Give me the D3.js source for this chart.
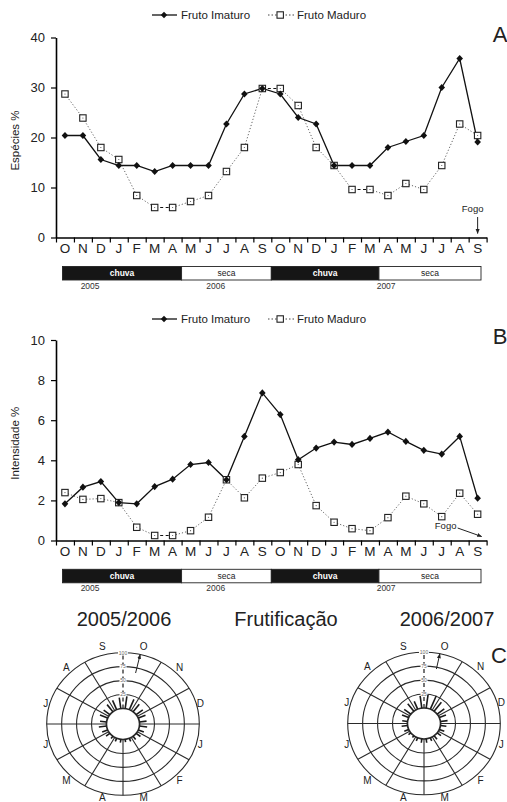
<!DOCTYPE html>
<html>
<head>
<meta charset="utf-8">
<script src="https://cdn.jsdelivr.net/npm/d3@7"></script>
<style>
  body { margin: 0; background: #fff; }
  svg { display: block; font-family: "Liberation Sans", Arial, sans-serif; }
</style>
</head>
<body>
<svg id="chart" width="507" height="802"></svg>
<script>
// months from Oct 2005 to Sep 2007
const months = ["O","N","D","J","F","M","A","M","J","J","A","S","O","N","D","J","F","M","A","M","J","J","A","S"];

// A - Espécies %
const especiesImaturo = [20.4, 20.4, 15.6, 14.4, 14.4, 13.2, 14.4, 14.4, 14.4, 22.7, 28.7, 29.8,
                         28.7, 24.0, 22.7, 14.4, 14.4, 14.4, 18.0, 19.2, 20.4, 30.0, 35.8, 19.1];
const especiesMaduro  = [28.7, 23.9, 18.0, 15.6, 8.4, 6.0, 6.0, 7.2, 8.4, 13.2, 18.0, 29.8,
                         29.8, 26.4, 18.0, 14.4, 9.6, 9.6, 8.4, 10.8, 9.6, 14.4, 22.7, 20.4];
const especiesTicks = [0, 10, 20, 30, 40];

// B - Intensidade %
const intensImaturo = [1.83, 2.66, 2.94, 1.89, 1.83, 2.69, 3.06, 3.79, 3.89, 3.03, 5.19, 7.36,
                       6.28, 4.03, 4.61, 4.91, 4.79, 5.09, 5.41, 4.94, 4.50, 4.31, 5.19, 2.11];
const intensMaduro  = [2.39, 2.05, 2.09, 1.89, 0.66, 0.25, 0.25, 0.49, 1.16, 3.03, 2.13, 3.11,
                       3.39, 3.79, 1.74, 0.91, 0.59, 0.49, 1.14, 2.21, 1.83, 1.19, 2.36, 1.31];
const intensTicks = [0, 2, 4, 6, 8, 10];

// season bar, in month indices
const seasons = [
  { label: "chuva", from: 0, to: 7 },
  { label: "seca", from: 7, to: 12 },
  { label: "chuva", from: 12, to: 18 },
  { label: "seca", from: 18, to: 24 }
];
const yearLabels = [{ label: "2005", at: 1.9 }, { label: "2006", at: 8.9 }, { label: "2007", at: 18.4 }];

// C - circular histograms (24 classes of 15 degrees, October at the top)
const roseMonths = ["O","N","D","J","F","M","A","M","J","J","A","S"];
const roseRings = [25, 50, 75, 100];
const frut0506 = [22, 20, 17, 14, 13, 12, 13, 10, 9, 7, 6, 5,
                  6, 6, 5, 8, 10, 13, 11, 14, 13, 16, 18, 20];
const frut0607 = [24, 26, 20, 15, 12, 12, 10, 9, 8, 8, 6, 7,
                  7, 6, 4, 5, 8, 10, 9, 12, 14, 17, 15, 22];
const roseTitles = ["2005/2006", "Frutificação", "2006/2007"];
const meanAngles = [13, 12];
const meanStarts = [66, 72];

const svg = d3.select("#chart");

svg.append("defs").append("marker")
  .attr("id", "arrow")
  .attr("viewBox", "0 0 10 10")
  .attr("refX", 9).attr("refY", 5)
  .attr("markerWidth", 5).attr("markerHeight", 5)
  .attr("orient", "auto")
  .append("path")
  .attr("d", "M0,1L10,5L0,9Z")
  .attr("fill", "#222");

const x = d3.scaleBand().domain(d3.range(months.length)).range([56, 486.6]);
const edge = d3.scaleLinear([0, months.length], [56, 486.6]);

function drawLegend(yPos) {
  const g = svg.append("g").attr("transform", `translate(0,${yPos})`);
  g.append("line").attr("x1", 152).attr("x2", 177).attr("stroke", "#111").attr("stroke-width", 1.3);
  g.append("path").attr("d", "M164,-3.3L167.2,0L164,3.3L160.8,0Z").attr("fill", "#111");
  g.append("text").attr("x", 181).attr("y", 4).attr("font-size", 11.5).attr("fill", "#222").text("Fruto Imaturo");
  g.append("line").attr("x1", 268).attr("x2", 294).attr("stroke", "#444")
    .attr("stroke-width", 1).attr("stroke-dasharray", "1.5,2");
  g.append("rect").attr("x", 277).attr("y", -3.2).attr("width", 6.4).attr("height", 6.4)
    .attr("fill", "#fff").attr("stroke", "#222").attr("stroke-width", 1.1);
  g.append("text").attr("x", 297).attr("y", 4).attr("font-size", 11.5).attr("fill", "#222").text("Fruto Maduro");
}

function drawPanel(cfg) {
  const y = d3.scaleLinear([0, cfg.max], [cfg.bottom, cfg.top]);
  const g = svg.append("g");

  // y axis
  const ya = g.append("g").attr("transform", "translate(56,0)")
    .call(d3.axisLeft(y).tickValues(cfg.ticks).tickSize(5).tickSizeOuter(0).tickPadding(6));
  ya.attr("font-family", null).attr("font-size", 13);
  ya.select(".domain").attr("stroke-width", 1.6);
  ya.selectAll(".tick line").attr("stroke-width", 1.2);
  ya.selectAll(".tick text").attr("fill", "#222");

  // x axis: ticks at month edges, letters at month centres
  const xt = g.append("g").attr("transform", `translate(0,${cfg.bottom})`)
    .call(d3.axisBottom(edge).ticks(months.length).tickFormat("").tickSize(5).tickSizeOuter(0));
  xt.select(".domain").attr("stroke-width", 1.4);
  xt.selectAll(".tick line").attr("stroke-width", 1.2);
  const xl = g.append("g").attr("transform", `translate(0,${cfg.bottom})`)
    .call(d3.axisBottom(x).tickFormat(i => months[i]).tickSize(0).tickPadding(6));
  xl.attr("font-family", null).attr("font-size", 13.5);
  xl.select(".domain").remove();
  xl.selectAll(".tick text").attr("fill", "#222");

  // y label
  g.append("text")
    .attr("transform", `translate(19,${(cfg.top + cfg.bottom) / 2 + 3}) rotate(-90)`)
    .attr("text-anchor", "middle").attr("font-size", 11.5).attr("fill", "#222")
    .text(cfg.label);

  // Fruto Maduro: dotted line (flat steps look dashed in the original)
  const segs = d3.range(cfg.maduro.length - 1).map(i => ({
    x1: x(i) + x.bandwidth() / 2, y1: y(cfg.maduro[i]),
    x2: x(i + 1) + x.bandwidth() / 2, y2: y(cfg.maduro[i + 1]),
    flat: cfg.maduro[i] === cfg.maduro[i + 1]
  }));
  g.selectAll("line.maduro").data(segs).join("line")
    .attr("class", "maduro")
    .attr("x1", d => d.x1).attr("y1", d => d.y1)
    .attr("x2", d => d.x2).attr("y2", d => d.y2)
    .attr("stroke", d => d.flat ? "#111" : "#666")
    .attr("stroke-width", d => d.flat ? 1.2 : 1)
    .attr("stroke-dasharray", d => d.flat ? "3,2.5" : "1.2,2");

  // Fruto Imaturo: solid line
  const line = d3.line().x((d, i) => x(i) + x.bandwidth() / 2).y(d => y(d));
  g.append("path").datum(cfg.imaturo)
    .attr("d", line).attr("fill", "none")
    .attr("stroke", "#111").attr("stroke-width", 1.3);

  g.selectAll("rect.sq").data(cfg.maduro).join("rect")
    .attr("class", "sq")
    .attr("x", (d, i) => x(i) + x.bandwidth() / 2 - 3.2)
    .attr("y", d => y(d) - 3.2)
    .attr("width", 6.4).attr("height", 6.4)
    .attr("fill", "#fff").attr("stroke", "#222").attr("stroke-width", 1.1);
  g.selectAll("circle.dot").data(cfg.maduro).join("circle")
    .attr("class", "dot")
    .attr("cx", (d, i) => x(i) + x.bandwidth() / 2)
    .attr("cy", d => y(d)).attr("r", 0.6).attr("fill", "#555");

  g.selectAll("path.dia").data(cfg.imaturo).join("path")
    .attr("class", "dia")
    .attr("transform", (d, i) => `translate(${x(i) + x.bandwidth() / 2},${y(d)})`)
    .attr("d", "M0,-3.6L3.3,0L0,3.6L-3.3,0Z")
    .attr("fill", "#111");

  // panel letter
  g.append("text").attr("x", 500).attr("y", cfg.top + 4).attr("text-anchor", "middle")
    .attr("font-size", 22).attr("fill", "#222").text(cfg.letter);

  // seasons bar
  const sb = g.append("g").attr("transform", `translate(0,${cfg.barTop})`);
  const sx0 = d => Math.max(edge(d.from), 62.5);
  const sx1 = d => Math.min(edge(d.to), 481);
  sb.selectAll("rect").data(seasons).join("rect")
    .attr("x", sx0).attr("width", d => sx1(d) - sx0(d))
    .attr("y", 0).attr("height", 13.5)
    .attr("fill", d => d.label === "chuva" ? "#161616" : "#fff")
    .attr("stroke", "#222").attr("stroke-width", 0.9);
  sb.selectAll("text").data(seasons).join("text")
    .attr("x", d => (sx0(d) + sx1(d)) / 2).attr("y", 9.5)
    .attr("text-anchor", "middle").attr("font-size", 8.5)
    .attr("font-weight", d => d.label === "chuva" ? "bold" : "normal")
    .attr("fill", d => d.label === "chuva" ? "#fff" : "#222")
    .text(d => d.label);
  g.selectAll("text.year").data(yearLabels).join("text")
    .attr("class", "year")
    .attr("x", d => edge(d.at)).attr("y", cfg.barTop + 22)
    .attr("text-anchor", "middle").attr("font-size", 8.5).attr("fill", "#333")
    .text(d => d.label);

  return y;
}

drawLegend(15);
const yA = drawPanel({
  imaturo: especiesImaturo, maduro: especiesMaduro, ticks: especiesTicks,
  max: 40, top: 37.5, bottom: 237.5, label: "Espécies %", letter: "A", barTop: 266.5
});
drawLegend(319);
const yB = drawPanel({
  imaturo: intensImaturo, maduro: intensMaduro, ticks: intensTicks,
  max: 10, top: 340, bottom: 540.5, label: "Intensidade %", letter: "B", barTop: 569.3
});

// Fogo (fire) annotations, last month
const fireX = x(months.length - 1) + x.bandwidth() / 2;
svg.append("text").attr("x", fireX - 5).attr("y", 212).attr("text-anchor", "middle")
  .attr("font-size", 9.5).attr("fill", "#222").text("Fogo");
svg.append("line").attr("x1", fireX).attr("y1", 217).attr("x2", fireX).attr("y2", yA(0) - 4)
  .attr("stroke", "#222").attr("stroke-width", 1).attr("marker-end", "url(#arrow)");
svg.append("text").attr("x", fireX - 32).attr("y", 529).attr("text-anchor", "middle")
  .attr("font-size", 9.5).attr("fill", "#222").text("Fogo");
svg.append("line").attr("x1", fireX - 20).attr("y1", 528).attr("x2", fireX + 4).attr("y2", yB(0) - 4)
  .attr("stroke", "#222").attr("stroke-width", 1).attr("marker-end", "url(#arrow)");

// C - circular plots
function drawRose(cx, cy, values, meanAngle, meanStart) {
  const kx = 1.07;
  const step = 360 / values.length;
  const r = d3.scaleLinear([0, 100], [15.5, 71.3]);
  const rad = deg => deg * Math.PI / 180;
  const pt = (deg, rr) => [cx + rr * kx * Math.sin(rad(deg)), cy - rr * Math.cos(rad(deg))];
  const g = svg.append("g");

  g.selectAll("ellipse.ring").data([0, ...roseRings]).join("ellipse")
    .attr("class", "ring")
    .attr("cx", cx).attr("cy", cy)
    .attr("rx", d => r(d) * kx).attr("ry", d => r(d))
    .attr("fill", "none").attr("stroke", "#2a2a2a")
    .attr("stroke-width", d => d === 0 ? 1.7 : 1.1);

  const spokes = d3.range(12).map(i => i * 30);
  g.selectAll("line.spoke").data(spokes).join("line")
    .attr("class", "spoke")
    .attr("x1", d => pt(d, r(0))[0]).attr("y1", d => pt(d, r(0))[1])
    .attr("x2", d => pt(d, r(100))[0]).attr("y2", d => pt(d, r(100))[1])
    .attr("stroke", "#2a2a2a").attr("stroke-width", d => d === 0 ? 1.3 : 1.1)
    .attr("stroke-dasharray", d => d === 0 ? "4,3" : null);

  // ring values along the dashed axis
  const lab = g.selectAll("g.rlab").data(roseRings).join("g")
    .attr("class", "rlab")
    .attr("transform", d => `translate(${cx},${cy - r(d)})`);
  lab.append("rect").attr("x", d => d === 100 ? -5 : -3.5).attr("y", -2.5)
    .attr("width", d => d === 100 ? 10 : 7).attr("height", 5).attr("fill", "#fff");
  lab.append("text").attr("y", 1.8).attr("text-anchor", "middle")
    .attr("font-size", 5).attr("fill", "#666").text(d => d);

  // histogram bars
  const ang = i => step / 2 + i * step;
  g.selectAll("line.bar").data(values).join("line")
    .attr("class", "bar")
    .attr("x1", (d, i) => pt(ang(i), r(0))[0]).attr("y1", (d, i) => pt(ang(i), r(0))[1])
    .attr("x2", (d, i) => pt(ang(i), r(d))[0]).attr("y2", (d, i) => pt(ang(i), r(d))[1])
    .attr("stroke", "#1a1a1a").attr("stroke-width", 1.6);

  // month labels
  g.selectAll("text.mon").data(roseMonths).join("text")
    .attr("class", "mon")
    .attr("x", (d, i) => cx + 80 * Math.sin(rad(15 + i * 30)))
    .attr("y", (d, i) => Math.min(cy - 80 * Math.cos(rad(15 + i * 30)) + 3.5, 800.5))
    .attr("text-anchor", "middle").attr("font-size", 10).attr("fill", "#222")
    .text(d => d);

  // mean vector
  const a0 = pt(meanAngle, r(meanStart));
  const a1 = pt(meanAngle, r(100));
  g.append("line").attr("x1", a0[0]).attr("y1", a0[1]).attr("x2", a1[0]).attr("y2", a1[1])
    .attr("stroke", "#222").attr("stroke-width", 1).attr("marker-end", "url(#arrow)");
}

drawRose(123, 724, frut0506, meanAngles[0], meanStarts[0]);
drawRose(424, 723.5, frut0607, meanAngles[1], meanStarts[1]);

svg.selectAll("text.rtitle").data(roseTitles).join("text")
  .attr("class", "rtitle")
  .attr("x", (d, i) => [124, 286, 447][i]).attr("y", 626)
  .attr("text-anchor", "middle").attr("font-size", 20).attr("fill", "#222")
  .text(d => d);
svg.append("text").attr("x", 499).attr("y", 663).attr("text-anchor", "middle")
  .attr("font-size", 22).attr("fill", "#222").text("C");
</script>
</body>
</html>
